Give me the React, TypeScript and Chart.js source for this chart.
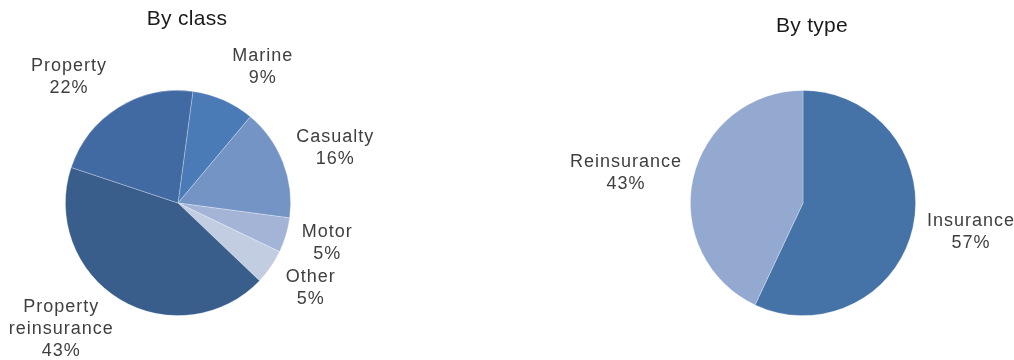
import React, { useEffect, useRef } from "react";
import { Chart, registerables } from "chart.js";

Chart.register(...registerables);

// ---- data ----
const classLabels = ["Marine", "Casualty", "Motor", "Other", "Property reinsurance", "Property"];
const classLabelLines = [["Marine"], ["Casualty"], ["Motor"], ["Other"], ["Property", "reinsurance"], ["Property"]];
const classValues = [9, 16, 5, 5, 43, 22];
const classColors = ["#4a7bb7", "#7494c6", "#a3b4d6", "#c3cde2", "#395e8c", "#426aa2"];
// per-label [angle nudge (deg), distance from centre (px)]
const classLabelNudge = [[8, 160], [2, 166], [-1.6, 154], [-2.0, 157], [12, 172], [-9, 167]];
const classRotation = 7.6;

const typeLabels = ["Insurance", "Reinsurance"];
const typeLabelLines = [["Insurance"], ["Reinsurance"]];
const typeValues = [57, 43];
const typeColors = ["#4572a7", "#94a9d0"];
const typeLabelNudge = [[-2.6, 170], [-3, 180]];
const typeRotation = 0;

const FONT = "'Liberation Sans', Arial, Helvetica, sans-serif";

function makeLabelPlugin(lines: string[][], values: number[], nudge: number[][], title: string, titleX: number, titleY: number) {
  return {
    id: "pieLabels",
    afterDraw(chart: any) {
      const ctx = chart.ctx;
      const meta = chart.getDatasetMeta(0);
      ctx.save();
      ctx.textAlign = "center";
      ctx.textBaseline = "middle";
      // title
      ctx.fillStyle = "#1a1a1a";
      ctx.font = `21px ${FONT}`;
      (ctx as any).letterSpacing = "0.3px";
      ctx.fillText(title, titleX, titleY);
      // labels
      ctx.fillStyle = "#3f3f3f";
      ctx.font = `18px ${FONT}`;
      (ctx as any).letterSpacing = "1px";
      meta.data.forEach((arc: any, i: number) => {
        const p = arc.getProps(["x", "y", "startAngle", "endAngle"], true);
        const mid = (p.startAngle + p.endAngle) / 2 + (nudge[i][0] * Math.PI) / 180;
        const dist = nudge[i][1];
        const cx = p.x + Math.cos(mid) * dist;
        const cy = p.y + Math.sin(mid) * dist;
        const all = [...lines[i], values[i] + "%"];
        const lh = 22;
        const y0 = cy - ((all.length - 1) * lh) / 2;
        all.forEach((t, k) => ctx.fillText(t, cx + 0.5, y0 + k * lh));
      });
      ctx.restore();
    },
  };
}

function PieChart(props: {
  labels: string[];
  lines: string[][];
  values: number[];
  colors: string[];
  nudge: number[][];
  rotation: number;
  title: string;
  titleX: number;
  titleY: number;
  padding: { left: number; right: number; top: number; bottom: number };
}) {
  const ref = useRef<HTMLCanvasElement>(null);
  useEffect(() => {
    if (!ref.current) return;
    const chart = new Chart(ref.current, {
      type: "pie",
      data: {
        labels: props.labels,
        datasets: [
          {
            data: props.values,
            backgroundColor: props.colors,
            borderColor: "rgba(255,255,255,0.35)",
            borderWidth: 0.8,
          },
        ],
      },
      options: {
        animation: false,
        responsive: false,
        maintainAspectRatio: false,
        rotation: props.rotation,
        layout: { padding: props.padding },
        plugins: {
          legend: { display: false },
          tooltip: { enabled: false },
          title: { display: false },
        },
      },
      plugins: [makeLabelPlugin(props.lines, props.values, props.nudge, props.title, props.titleX, props.titleY)],
    });
    return () => chart.destroy();
  }, []);
  return <canvas ref={ref} width={507} height={360} style={{ width: 507, height: 360, display: "block" }} />;
}

export default function App() {
  return (
    <div style={{ position: "absolute", left: 0, top: 0, width: 1014, height: 360, display: "flex", background: "#fff" }}>
      <PieChart
        labels={classLabels}
        lines={classLabelLines}
        values={classValues}
        colors={classColors}
        nudge={classLabelNudge}
        rotation={classRotation}
        title="By class"
        titleX={187}
        titleY={19}
        padding={{ left: 65, right: 216, top: 90, bottom: 44 }}
      />
      <PieChart
        labels={typeLabels}
        lines={typeLabelLines}
        values={typeValues}
        colors={typeColors}
        nudge={typeLabelNudge}
        rotation={typeRotation}
        title="By type"
        titleX={305}
        titleY={26}
        padding={{ left: 183, right: 98, top: 90, bottom: 44 }}
      />
    </div>
  );
}
